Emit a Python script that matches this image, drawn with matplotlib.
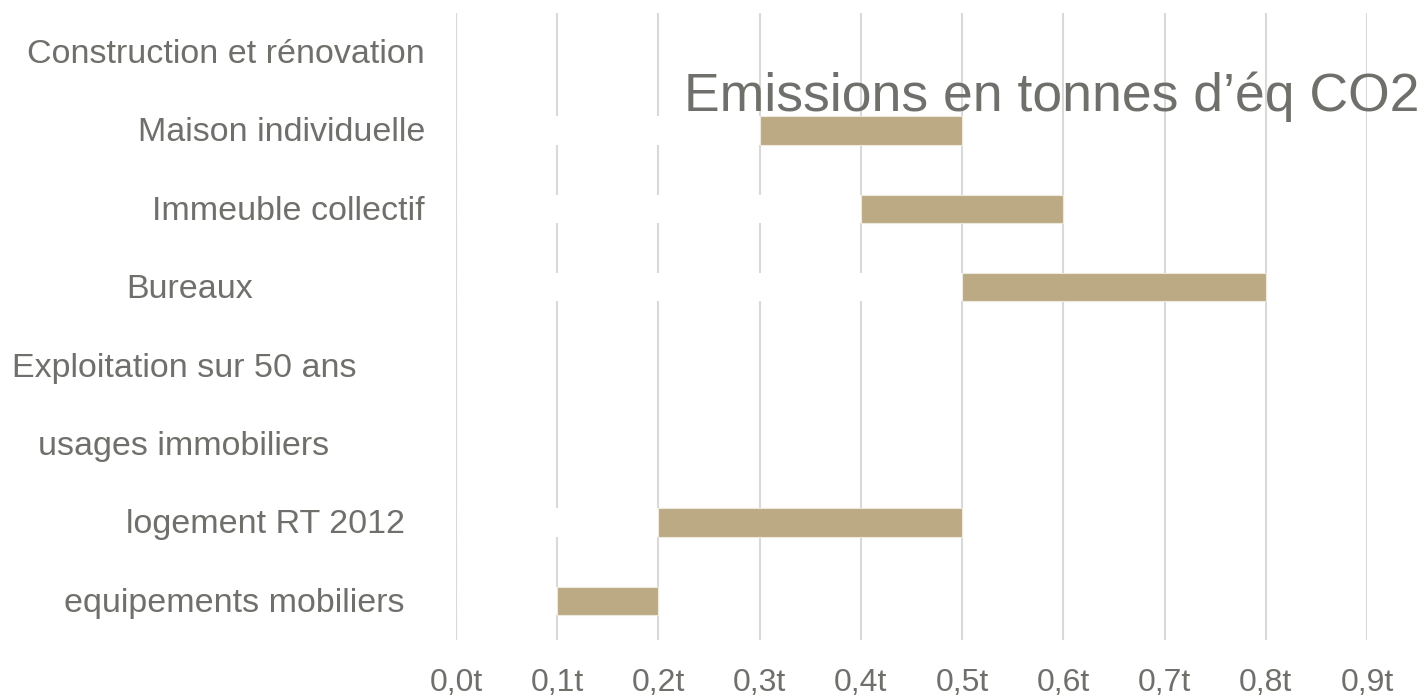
import numpy as np
import matplotlib
matplotlib.use("Agg")
import matplotlib.pyplot as plt
import matplotlib.transforms as mtransforms

plt.rcParams['font.family'] = ['Liberation Sans', 'DejaVu Sans']

# categories from top to bottom, with start / end of each range (tonnes eq CO2)
categories = ["Construction et rénovation", "Maison individuelle", "Immeuble collectif",
              "Bureaux", "Exploitation sur 50 ans", "usages immobiliers",
              "logement RT 2012", "equipements mobiliers"]
debut = [np.nan, 0.3, 0.4, 0.5, np.nan, np.nan, 0.2, 0.1]
fin = [np.nan, 0.5, 0.6, 0.8, np.nan, np.nan, 0.5, 0.2]
ticks = [0.0, 0.1, 0.2, 0.3, 0.4, 0.5, 0.6, 0.7, 0.8, 0.9]
tick_labels = ["0,0t", "0,1t", "0,2t", "0,3t", "0,4t", "0,5t", "0,6t", "0,7t", "0,8t", "0,9t"]

# right edge (pixels) of each category label
label_right = [425, 425, 425, 253, 357, 329, 405, 405]

gris = "#6F6F6B"
beige = "#BCAA84"
W, H = 1424, 700

fig = plt.figure(figsize=(W / 100, H / 100), dpi=100)
ax = fig.add_axes([456 / W, 1 - 640 / H, (1367 - 456) / W, (640 - 13) / H])

y = np.arange(len(categories))
debut_arr = np.array(debut)
fin_arr = np.array(fin)

# invisible spacer bar then the visible range on top
ax.barh(y, debut_arr, height=0.36, color="white", zorder=2)
ax.barh(y, fin_arr - debut_arr, left=debut_arr, height=0.36, color=beige,
        edgecolor="#EEE9DF", linewidth=0.8, zorder=3)

ax.set_xlim(0, 0.9)
ax.set_ylim(len(categories) - 0.5, -0.5)
ax.set_xticks(ticks)
ax.set_xticklabels(tick_labels)
ax.set_yticks([])
ax.grid(axis="x", color="#D9D9D9", linewidth=1.5, zorder=0)
ax.axvline(0, color="#D9D9D9", linewidth=1.5, zorder=4)
ax.set_axisbelow(True)
for s in ax.spines.values():
    s.set_visible(False)
ax.tick_params(axis="x", length=0, pad=20, labelsize=23, labelcolor=gris)

trans = mtransforms.blended_transform_factory(fig.transFigure, ax.transData)
for yi, lab, xr in zip(y, categories, label_right):
    ax.text(xr / W, yi + 0.03, lab, transform=trans, ha="right", va="center",
            fontsize=24.5, color=gris, clip_on=False)

fig.text(1420 / W, 1 - 111 / H, "Emissions en tonnes d\u2019éq CO2", ha="right",
         va="baseline", fontsize=38.5, color=gris)

fig.savefig("out.png", dpi=100, facecolor="white")
